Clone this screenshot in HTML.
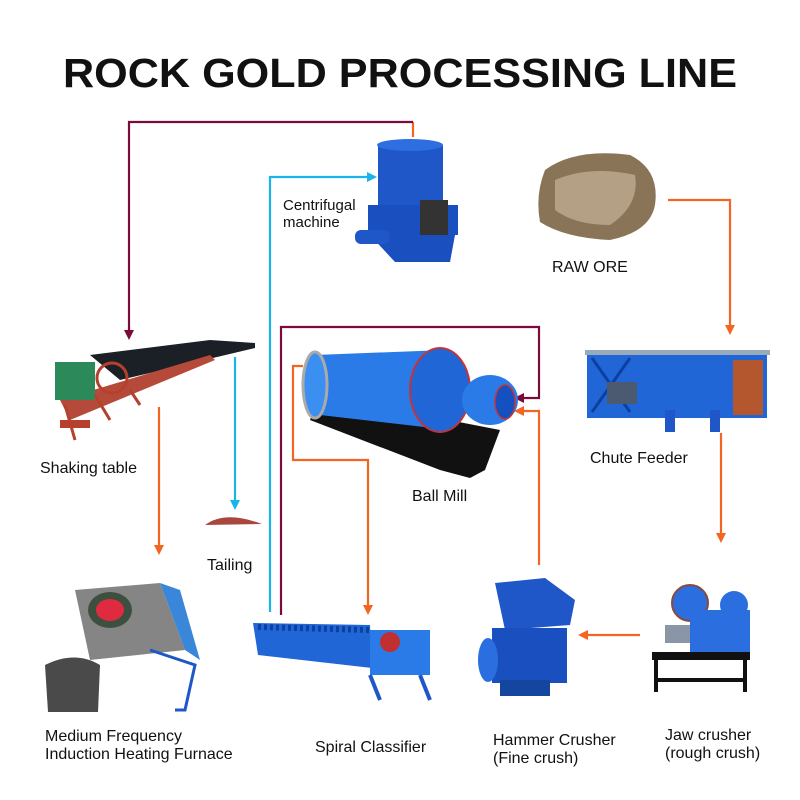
<!DOCTYPE html>
<html><head><style>
body{margin:0;background:#fff;}
svg{display:block}
text{font-family:"Liberation Sans",Arial,sans-serif;fill:#111}
</style></head><body>
<svg width="800" height="800" viewBox="0 0 800 800" xmlns="http://www.w3.org/2000/svg">
<defs>
<marker id="ao" markerWidth="10" markerHeight="10" refX="5" refY="5" orient="auto" markerUnits="userSpaceOnUse"><path d="M0,0 L10,5 L0,10 Z" fill="#f26522"/></marker>
<marker id="am" markerWidth="10" markerHeight="10" refX="5" refY="5" orient="auto" markerUnits="userSpaceOnUse"><path d="M0,0 L10,5 L0,10 Z" fill="#7a0b3c"/></marker>
<marker id="ac" markerWidth="10" markerHeight="10" refX="5" refY="5" orient="auto" markerUnits="userSpaceOnUse"><path d="M0,0 L10,5 L0,10 Z" fill="#19b5ea"/></marker>
</defs>
<text x="63" y="87" font-size="41" font-weight="bold" textLength="674" lengthAdjust="spacingAndGlyphs">ROCK GOLD PROCESSING LINE</text>

<g fill="none" stroke-width="2.2">
<path d="M413,137 L413,122" stroke="#f26522"/>
<path d="M413,122 L129,122 L129,335" stroke="#7a0b3c" marker-end="url(#am)"/>
<path d="M270,612 L270,177 L372,177" stroke="#19b5ea" marker-end="url(#ac)"/>
<path d="M281,615 L281,327 L539,327 L539,398 L519,398" stroke="#7a0b3c" marker-end="url(#am)"/>
<path d="M539,565 L539,411 L519,411" stroke="#f26522" marker-end="url(#ao)"/>
<path d="M303,366 L293,366 L293,460 L368,460 L368,610" stroke="#f26522" marker-end="url(#ao)"/>
<path d="M159,407 L159,550" stroke="#f26522" marker-end="url(#ao)"/>
<path d="M235,357 L235,505" stroke="#19b5ea" marker-end="url(#ac)"/>
<path d="M668,200 L730,200 L730,330" stroke="#f26522" marker-end="url(#ao)"/>
<path d="M721,433 L721,538" stroke="#f26522" marker-end="url(#ao)"/>
<path d="M640,635 L583,635" stroke="#f26522" marker-end="url(#ao)"/>
</g>

<g>
<rect x="378" y="145" width="65" height="60" fill="#1f57c8"/>
<ellipse cx="410" cy="145" rx="33" ry="6" fill="#2f6ee0"/>
<rect x="368" y="205" width="90" height="30" fill="#1a4fc0"/>
<rect x="420" y="200" width="28" height="40" fill="#333"/>
<path d="M370,235 L455,235 L450,262 L395,262 Z" fill="#1a4fc0"/>
<rect x="355" y="230" width="35" height="14" rx="6" fill="#1f57c8"/>
</g>
<text x="283" y="210" font-size="15">Centrifugal</text>
<text x="283" y="227" font-size="15">machine</text>

<path d="M545,170 Q575,148 630,155 Q660,170 655,205 Q650,232 610,240 Q565,238 540,222 Q535,195 545,170 Z" fill="#8a7458"/>
<path d="M555,180 Q590,165 635,175 Q640,205 610,225 Q575,225 555,210 Z" fill="#b4a084"/>
<text x="552" y="272" font-size="16">RAW ORE</text>

<g>
<rect x="585" y="350" width="185" height="5" fill="#9ab"/>
<rect x="587" y="355" width="180" height="63" fill="#2166d6"/>
<rect x="733" y="360" width="30" height="55" fill="#b5572e"/>
<path d="M592,358 L630,412 M630,358 L592,412" stroke="#0d3fa0" stroke-width="3"/>
<rect x="607" y="382" width="30" height="22" fill="#4b5a70"/>
<rect x="665" y="410" width="10" height="22" fill="#1f57c8"/>
<rect x="710" y="410" width="10" height="22" fill="#1f57c8"/>
</g>
<text x="590" y="463" font-size="16">Chute Feeder</text>

<g>
<path d="M310,420 L440,470 L470,478 L485,470 L500,430 L320,395 Z" fill="#111"/>
<path d="M315,355 L445,350 L450,430 L320,415 Z" fill="#2a7be8"/>
<ellipse cx="315" cy="385" rx="12" ry="33" fill="#3b8ff0" stroke="#aaa" stroke-width="3"/>
<ellipse cx="440" cy="390" rx="30" ry="42" fill="#2166d6" stroke="#c3343a" stroke-width="2"/>
<ellipse cx="490" cy="400" rx="28" ry="25" fill="#2a7be8"/>
<ellipse cx="505" cy="402" rx="10" ry="17" fill="#1450c0" stroke="#c3343a" stroke-width="1.5"/>
</g>
<text x="412" y="501" font-size="16">Ball Mill</text>

<g>
<path d="M90,355 L210,340 L255,343 L255,348 L120,380 Z" fill="#1b1f26"/>
<path d="M60,400 L210,355 L215,360 L70,420 Z" fill="#b54a3a"/>
<rect x="55" y="362" width="40" height="38" fill="#2c8a5a"/>
<circle cx="112" cy="378" r="15" fill="none" stroke="#b5402d" stroke-width="3"/>
<path d="M65,405 L75,440 M95,395 L110,420 M130,390 L140,405" stroke="#b5402d" stroke-width="3"/>
<rect x="60" y="420" width="30" height="8" fill="#b5402d"/>
</g>
<text x="40" y="473" font-size="16">Shaking table</text>

<path d="M205,525 Q225,510 262,524 Z" fill="#a9463e"/>
<text x="207" y="570" font-size="16">Tailing</text>

<g>
<path d="M75,590 L160,583 L185,650 L90,660 Z" fill="#858585"/>
<ellipse cx="110" cy="610" rx="22" ry="18" fill="#3d5040"/>
<ellipse cx="110" cy="610" rx="14" ry="11" fill="#e02a40"/>
<path d="M160,583 L185,650 L200,660 L180,590 Z" fill="#3a86d8"/>
<path d="M45,665 Q75,650 100,665 L98,712 L48,712 Z" fill="#4a4a4a"/>
<path d="M150,650 L195,665 L185,710 L175,710" stroke="#1f57c8" stroke-width="3" fill="none"/>
</g>
<text x="45" y="741" font-size="16">Medium Frequency</text>
<text x="45" y="759" font-size="16">Induction Heating Furnace</text>

<g>
<path d="M253,623 L370,625 L372,668 L258,655 Z" fill="#2166d6"/>
<path d="M258,627 L370,630" stroke="#0d3fa0" stroke-width="6" stroke-dasharray="3 3"/>
<rect x="370" y="630" width="60" height="45" fill="#2a7be8"/>
<circle cx="390" cy="642" r="10" fill="#c03030"/>
<path d="M370,675 L380,700 M420,675 L430,700" stroke="#1f57c8" stroke-width="4"/>
</g>
<text x="315" y="752" font-size="16">Spiral Classifier</text>

<g>
<path d="M495,583 L545,578 L575,600 L570,625 L505,630 Z" fill="#1f57c8"/>
<rect x="492" y="628" width="75" height="55" fill="#1a4fc0"/>
<ellipse cx="488" cy="660" rx="10" ry="22" fill="#2a6ee0"/>
<rect x="500" y="680" width="50" height="16" fill="#15469f"/>
</g>
<text x="493" y="745" font-size="16">Hammer Crusher</text>
<text x="493" y="763" font-size="16">(Fine crush)</text>

<g>
<circle cx="690" cy="603" r="18" fill="#2a6ee0" stroke="#8a4a3a" stroke-width="2"/>
<circle cx="734" cy="605" r="14" fill="#2a6ee0"/>
<rect x="690" y="610" width="60" height="45" fill="#2a6ee0"/>
<rect x="665" y="625" width="25" height="18" fill="#8a96a8"/>
<rect x="652" y="652" width="98" height="8" fill="#111"/>
<path d="M656,660 L656,692 M745,660 L745,692 M656,680 L745,680" stroke="#111" stroke-width="4"/>
</g>
<text x="665" y="740" font-size="16">Jaw crusher</text>
<text x="665" y="758" font-size="16">(rough crush)</text>
</svg>
</body></html>
